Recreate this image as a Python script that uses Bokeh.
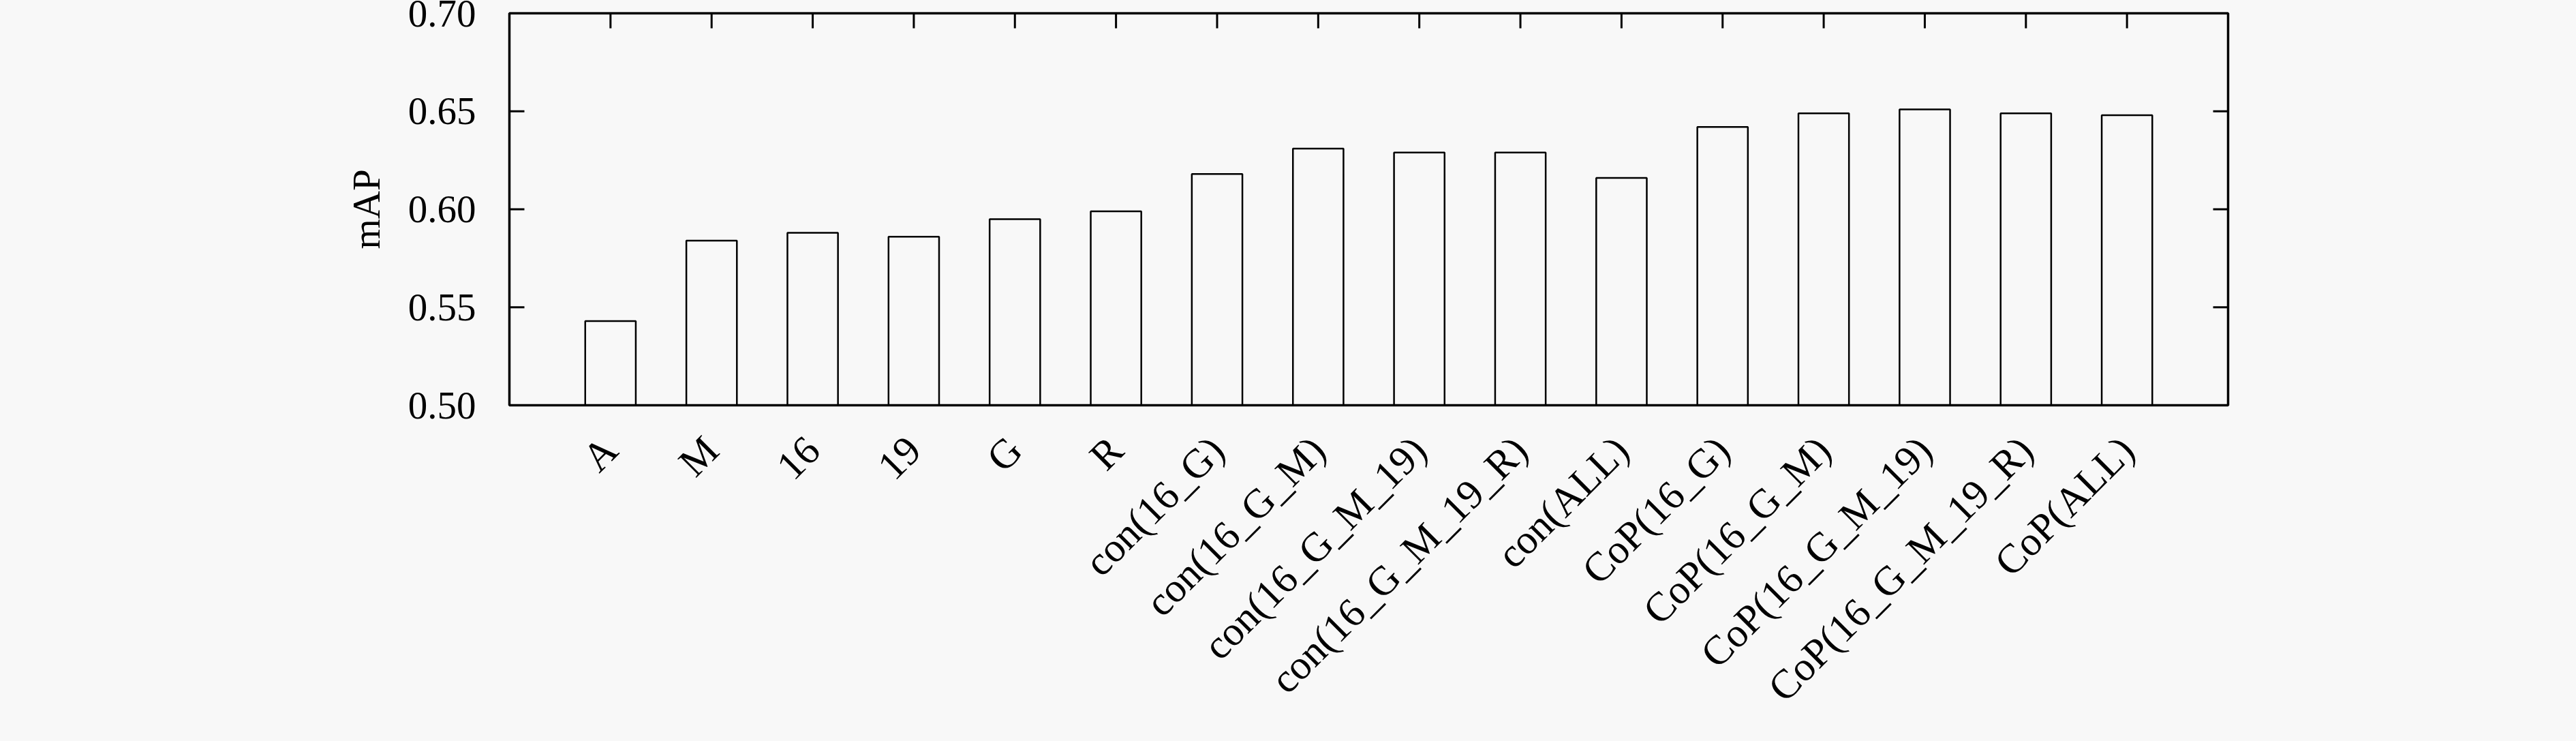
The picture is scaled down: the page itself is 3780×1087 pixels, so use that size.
from bokeh.plotting import figure
from bokeh.models import Range1d, FixedTicker, LinearAxis, NumeralTickFormatter, ColumnDataSource
from bokeh.embed import file_html
from bokeh.resources import INLINE
import math

# ---- data ----
categories = ["A", "M", "16", "19", "G", "R",
              "con(16_G)", "con(16_G_M)", "con(16_G_M_19)", "con(16_G_M_19_R)", "con(ALL)",
              "CoP(16_G)", "CoP(16_G_M)", "CoP(16_G_M_19)", "CoP(16_G_M_19_R)", "CoP(ALL)"]
map_values = [0.543, 0.584, 0.588, 0.586, 0.595, 0.599,
              0.618, 0.631, 0.629, 0.629, 0.616,
              0.642, 0.649, 0.651, 0.649, 0.648]
y_ticks = [0.50, 0.55, 0.60, 0.65, 0.70]

positions = list(range(len(categories)))
src = ColumnDataSource(dict(x=positions, top=map_values))

BG = "#f8f8f8"
FONT = "Liberation Serif"
FS = "57px"
XFS = "60px"

x_lo, x_hi = -1, len(categories)
y_lo, y_hi = y_ticks[0], y_ticks[-1]

p = figure(width=3764, height=1071, output_backend="svg", toolbar_location=None,
           x_range=Range1d(x_lo, x_hi), y_range=Range1d(y_lo, y_hi),
           x_axis_type=None, y_axis_type=None,
           min_border_left=747, min_border_right=495, min_border_top=19, min_border_bottom=477)
p.background_fill_color = BG
p.border_fill_color = BG
p.outline_line_color = "black"
p.outline_line_width = 3.5
p.grid.visible = False

p.vbar(x="x", top="top", bottom=y_lo, width=0.5, source=src,
       fill_color=None, line_color="black", line_width=2.5)

# inward tick marks (half of each dash is clipped away by the frame)
p.scatter(x=positions, y=[y_hi] * len(positions), marker="dash", angle=math.pi / 2,
          size=44, line_color="black", line_width=3)
p.scatter(x=[x_hi] * (len(y_ticks) - 2), y=y_ticks[1:-1], marker="dash",
          size=44, line_color="black", line_width=3)
p.scatter(x=[x_lo] * (len(y_ticks) - 2), y=y_ticks[1:-1], marker="dash",
          size=44, line_color="black", line_width=3)

# left axis: tick labels and title
ly = LinearAxis(ticker=FixedTicker(ticks=y_ticks), formatter=NumeralTickFormatter(format="0.00"),
                axis_label="mAP")
ly.axis_line_color = None
ly.major_tick_in = 0
ly.major_tick_out = 0
ly.major_tick_line_color = None
ly.minor_tick_line_color = None
ly.major_label_standoff = 49
ly.major_label_text_font = FONT
ly.major_label_text_font_size = FS
ly.major_label_text_color = "black"
ly.axis_label_text_font = FONT
ly.axis_label_text_font_size = FS
ly.axis_label_text_font_style = "normal"
ly.axis_label_text_color = "black"
ly.axis_label_standoff = 27
p.add_layout(ly, "left")

# bottom axis (labels)
bx = LinearAxis(ticker=FixedTicker(ticks=positions),
                major_label_overrides={i: c for i, c in zip(positions, categories)})
bx.axis_line_color = None
bx.major_tick_in = 0
bx.major_tick_out = 0
bx.major_tick_line_color = None
bx.minor_tick_line_color = None
bx.major_label_orientation = math.pi / 4
bx.major_label_standoff = 56
bx.major_label_text_font = FONT
bx.major_label_text_font_size = XFS
bx.major_label_text_color = "black"
p.add_layout(bx, "below")

html = file_html(p, INLINE)
html = html.replace("</head>", "<style>html, body { background-color: #f8f8f8; }</style>\n</head>", 1)
open("out.html", "w").write(html)
